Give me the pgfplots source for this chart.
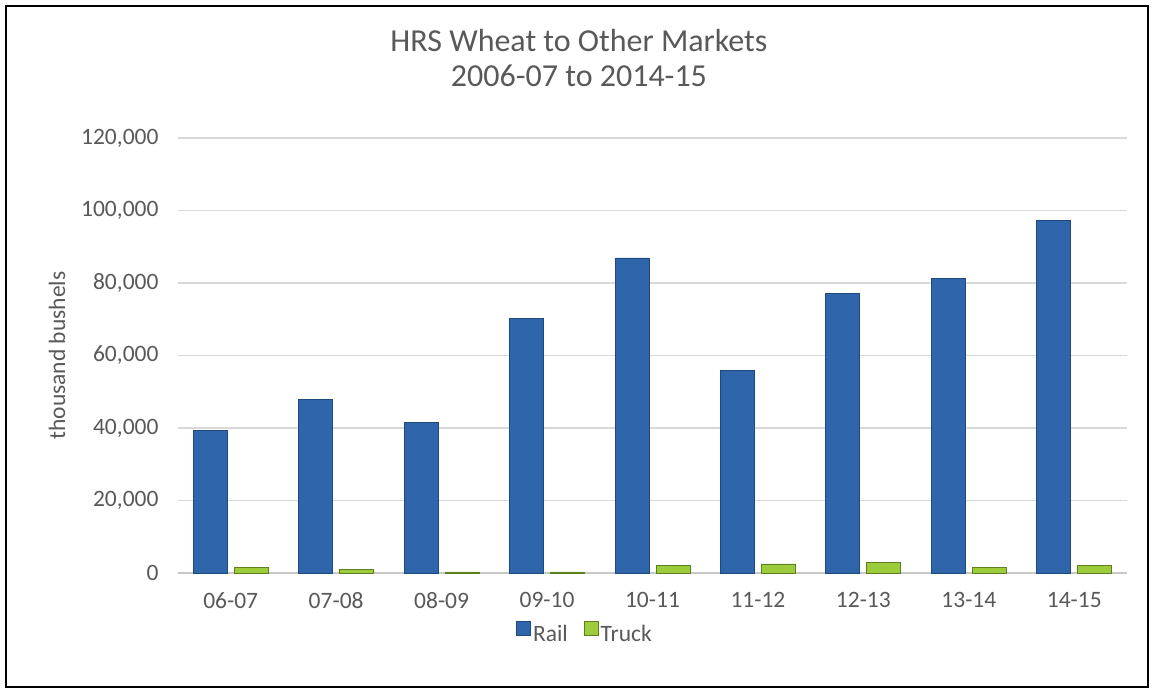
\documentclass[border=0pt]{standalone}
\usepackage{fontspec}
\setmainfont{Carlito}
\usepackage{pgfplots}
\usepackage{pgfplotstable}
\pgfplotsset{compat=1.18}
\definecolor{txt}{HTML}{595959}
\definecolor{gridc}{HTML}{D9D9D9}
\definecolor{axisc}{HTML}{C8C8C8}
\definecolor{railfill}{HTML}{2F65AB}
\definecolor{railedge}{HTML}{1F497D}
\definecolor{truckfill}{HTML}{9CCC3C}
\definecolor{truckedge}{HTML}{5E7F1E}

\pgfplotstableread{
x rail truck
0 39400 1600
1 48000 1100
2 41500 300
3 70300 300
4 86900 2200
5 56000 2500
6 77000 2800
7 81200 1600
8 97300 2200
}\datatable

\begin{document}
\begin{tikzpicture}
\useasboundingbox (-178pt,-121pt) rectangle (976pt,573pt);
\fill[white] (-178pt,-121pt) rectangle (976pt,573pt);
\draw[black, line width=1.3pt] (-172pt,-114pt) rectangle (970pt,567pt);
\begin{axis}[
  at={(0pt,0pt)}, anchor=south west,
  scale only axis, width=949pt, height=435pt,
  ybar=7pt, bar width=34pt,
  xmin=-0.5, xmax=8.5, ymin=0, ymax=120000,
  ytick={0,20000,40000,60000,80000,100000,120000},
  xtick={0,1,2,3,4,5,6,7,8},
  xticklabels={06-07,07-08,08-09,09-10,10-11,11-12,12-13,13-14,14-15},
  scaled y ticks=false,
  /pgf/number format/assume math mode=true,
  yticklabel style={/pgf/number format/fixed, /pgf/number format/1000 sep={,}, xshift=-16pt},
  ticklabel style={font=\fontsize{23.5}{28}\selectfont, text=txt},
  xticklabel style={yshift=-16pt},
  major tick length=0pt,
  axis x line*=bottom, axis y line*=left,
  y axis line style={draw=none},
  x axis line style={draw=axisc, line width=2pt, -},
  ymajorgrids, grid style={draw=gridc, line width=1.3pt},
  ylabel={thousand bushels},
  ylabel style={at={(axis description cs:-0.1275,0.5)}, anchor=center, font=\fontsize{23.5}{28}\selectfont, text=txt},
  title={HRS Wheat to Other Markets\\2006-07 to 2014-15},
  title style={at={(axis description cs:0.4225,1.169)}, anchor=center, align=center, font=\fontsize{32}{35}\selectfont, text=txt},
  legend style={at={(axis description cs:0.4289,-0.138)}, anchor=center, draw=none, fill=none,
    font=\fontsize{23.5}{28}\selectfont, text=txt,
    /tikz/every even column/.append style={column sep=14pt},
    nodes={inner sep=2pt}},
  legend columns=2,
  legend image code/.code={\draw[#1,/tikz/.cd] (0pt,-1pt) rectangle (14pt,13pt);},
  clip=false,
]
\addplot[draw=railedge, line width=0.8pt, fill=railfill] table[x=x, y=rail] {\datatable};
\addplot[draw=truckedge, line width=0.8pt, fill=truckfill] table[x=x, y=truck] {\datatable};
\legend{Rail, Truck}
\end{axis}
\end{tikzpicture}
\end{document}
